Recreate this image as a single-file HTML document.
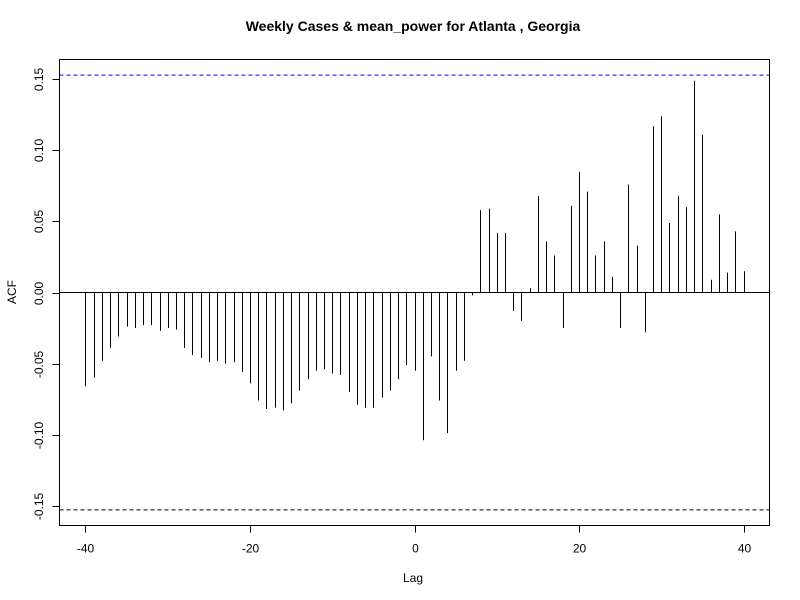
<!DOCTYPE html>
<html><head><meta charset="utf-8"><style>
body{margin:0;background:#fff}
svg{display:block;font-family:"Liberation Sans",Arial,sans-serif}
</style></head><body>
<svg id="chart" width="800" height="600" xmlns="http://www.w3.org/2000/svg">
<rect width="800" height="600" fill="#fff"/>
<text x="413" y="31" font-size="14" font-weight="bold" text-anchor="middle">Weekly Cases &amp; mean_power for Atlanta , Georgia</text>
<text x="413" y="582" font-size="12" text-anchor="middle">Lag</text>
<text transform="translate(16,292) rotate(-90)" font-size="12" text-anchor="middle">ACF</text>
<g id="marks"></g>
<rect x="59.5" y="59.5" width="710" height="466" fill="none" stroke="#000"/>
</svg>
<script>
const lags = [];
for (let i = -40; i <= 40; i++) lags.push(i);
const acfValues = [
-0.066,-0.060,-0.048,-0.039,-0.031,-0.024,-0.025,-0.023,-0.023,-0.027,
-0.025,-0.026,-0.039,-0.044,-0.046,-0.049,-0.048,-0.050,-0.049,-0.056,
-0.064,-0.076,-0.082,-0.081,-0.083,-0.078,-0.069,-0.061,-0.055,-0.054,
-0.057,-0.058,-0.070,-0.079,-0.081,-0.081,-0.074,-0.069,-0.061,-0.051,
-0.055,
-0.104,-0.045,-0.076,-0.099,-0.055,-0.048,-0.002,0.058,0.059,0.042,
0.042,-0.013,-0.020,0.003,0.068,0.036,0.026,-0.025,0.061,0.085,
0.071,0.026,0.036,0.011,-0.025,0.076,0.033,-0.028,0.117,0.124,
0.049,0.068,0.060,0.149,0.111,0.009,0.055,0.014,0.043,0.015];
const ciLimit = 0.153;
const xTicks = [-40,-20,0,20,40];
const yTicks = [-0.15,-0.10,-0.05,0.00,0.05,0.10,0.15];

const X0=59.5,X1=769.5,Y0=59.5,Y1=525.5;
const xMin=-43.16,xMax=43.16,yMin=-0.1640,yMax=0.1640;
const xs=v=>X0+(v-xMin)/(xMax-xMin)*(X1-X0);
const ys=v=>Y1-(v-yMin)/(yMax-yMin)*(Y1-Y0);
const NS='http://www.w3.org/2000/svg';
const svg=document.getElementById('chart');
const g=document.getElementById('marks');
function mk(tag,attrs,parent){const e=document.createElementNS(NS,tag);for(const k in attrs)e.setAttribute(k,attrs[k]);(parent||g).appendChild(e);return e;}

// zero line
let z=mk('line',{x1:X0,x2:X1,y1:ys(0),y2:ys(0),stroke:'#000','stroke-width':1});


// CI lines
let cu=mk('line',{x1:X0,x2:X1,y1:ys(ciLimit),y2:ys(ciLimit),stroke:'#0000ff','stroke-dasharray':'4,3','stroke-width':1});


let cl=mk('line',{x1:X0,x2:X1,y1:ys(-ciLimit),y2:ys(-ciLimit),stroke:'#000','stroke-dasharray':'4,3','stroke-width':1});


// bars
lags.forEach((l,i)=>{
  const x=Math.round(xs(l))+0.5;
  const b=mk('line',{x1:x,x2:x,y1:ys(0),y2:ys(acfValues[i]),stroke:'#000','stroke-width':1});
  
  
});
// x ticks
xTicks.forEach(t=>{
  const x=Math.round(xs(t))+0.5;
  const tk=mk('line',{x1:x,x2:x,y1:Y1,y2:Y1+7,stroke:'#000'},svg);
  
  
  const lb=mk('text',{x:x,y:Y1+27,'font-size':12,'text-anchor':'middle'},svg);
  lb.textContent=String(t);
  
  
});
// y ticks
yTicks.forEach(t=>{
  const y=Math.round(ys(t))+0.5;
  const tk=mk('line',{x1:X0-7,x2:X0,y1:y,y2:y,stroke:'#000'},svg);
  
  
  const lb=mk('text',{transform:'translate(43,'+y+') rotate(-90)','font-size':12,'text-anchor':'middle'},svg);
  lb.textContent=t.toFixed(2);
  
  
});
</script>
</body></html>
